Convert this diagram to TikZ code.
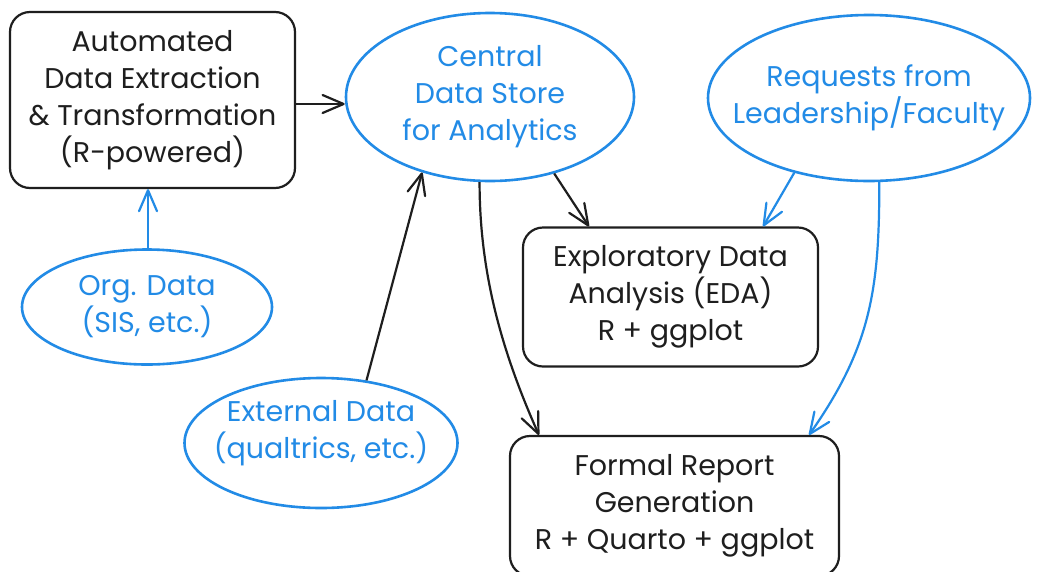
\documentclass[tikz,border=0pt]{standalone}
\usepackage{fontspec}
\setmainfont{Poppins}
\usetikzlibrary{shapes.geometric,arrows.meta,calc}
\definecolor{ink}{RGB}{30,30,30}
\definecolor{sky}{RGB}{34,139,230}
\tikzset{
  lbl/.style={align=center,font=\fontsize{28.5}{37}\selectfont},
  card/.style={lbl,draw=ink,text=ink,line width=2.2pt,rounded corners=20pt,inner sep=0pt},
  bubble/.style={ellipse,draw=sky,line width=2.6pt,inner sep=0pt},
  inside/.style={label={[lbl,text=sky]center:{#1}}},
  flow/.style={line width=2.2pt,-{Straight Barb[length=21pt,width=18pt,round]}},
  dark/.style={flow,draw=ink},
  bright/.style={flow,draw=sky},
}
\begin{document}
\begin{tikzpicture}[x=1pt,y=-1pt]
\useasboundingbox (0,0) rectangle (1043,571);
\clip (0,0) rectangle (1043,571);
\fill[white] (0,0) rectangle (1043,571);

% processing steps
\node[card,minimum width=285pt,minimum height=176pt] (extract) at (152.5,100)
  {Automated\\Data Extraction\\\& Transformation\\(R-powered)};
\node[card,minimum width=295pt,minimum height=139pt] (eda) at (670.5,297)
  {Exploratory Data\\Analysis (EDA)\\R + ggplot};
\node[card,minimum width=329pt,minimum height=140pt] (report) at (674.5,506)
  {Formal Report\\Generation\\R + Quarto + ggplot};

% data sources and requests
\node[bubble,minimum width=288pt,minimum height=168pt,
  inside={Central\\Data Store\\for Analytics}] (store) at (490,97) {};
\node[bubble,minimum width=322pt,minimum height=166pt,
  inside={Requests from\\Leadership/Faculty}] (requests) at (869,98) {};
\node[bubble,minimum width=250pt,minimum height=115pt,
  inside={Org. Data\\(SIS, etc.)}] (org) at (147,307) {};
\node[bubble,minimum width=273pt,minimum height=130pt,
  label={[lbl,text=sky,yshift=10pt]center:{External Data\\(qualtrics, etc.)}}] (ext) at (321,443) {};

% connectors
\draw[dark] (extract.east |- 0,104) -- (store.west |- 0,104);
\draw[bright] (org.north -| 148,0) -- (extract.south -| 148,0);
\draw[dark] (ext.54) -- (store.228.5);
\draw[dark] (store.310) -- ([xshift=67pt]eda.north west);
\draw[dark] (store.263) to[out=-90,in=114,looseness=0.9] ([xshift=30pt]report.north west);
\draw[bright] (requests.225) -- ([xshift=-56pt]eda.north east);
\draw[bright] (requests.277) to[out=-90,in=55,looseness=1.05] ([xshift=-31pt]report.north east);
\end{tikzpicture}
\end{document}
